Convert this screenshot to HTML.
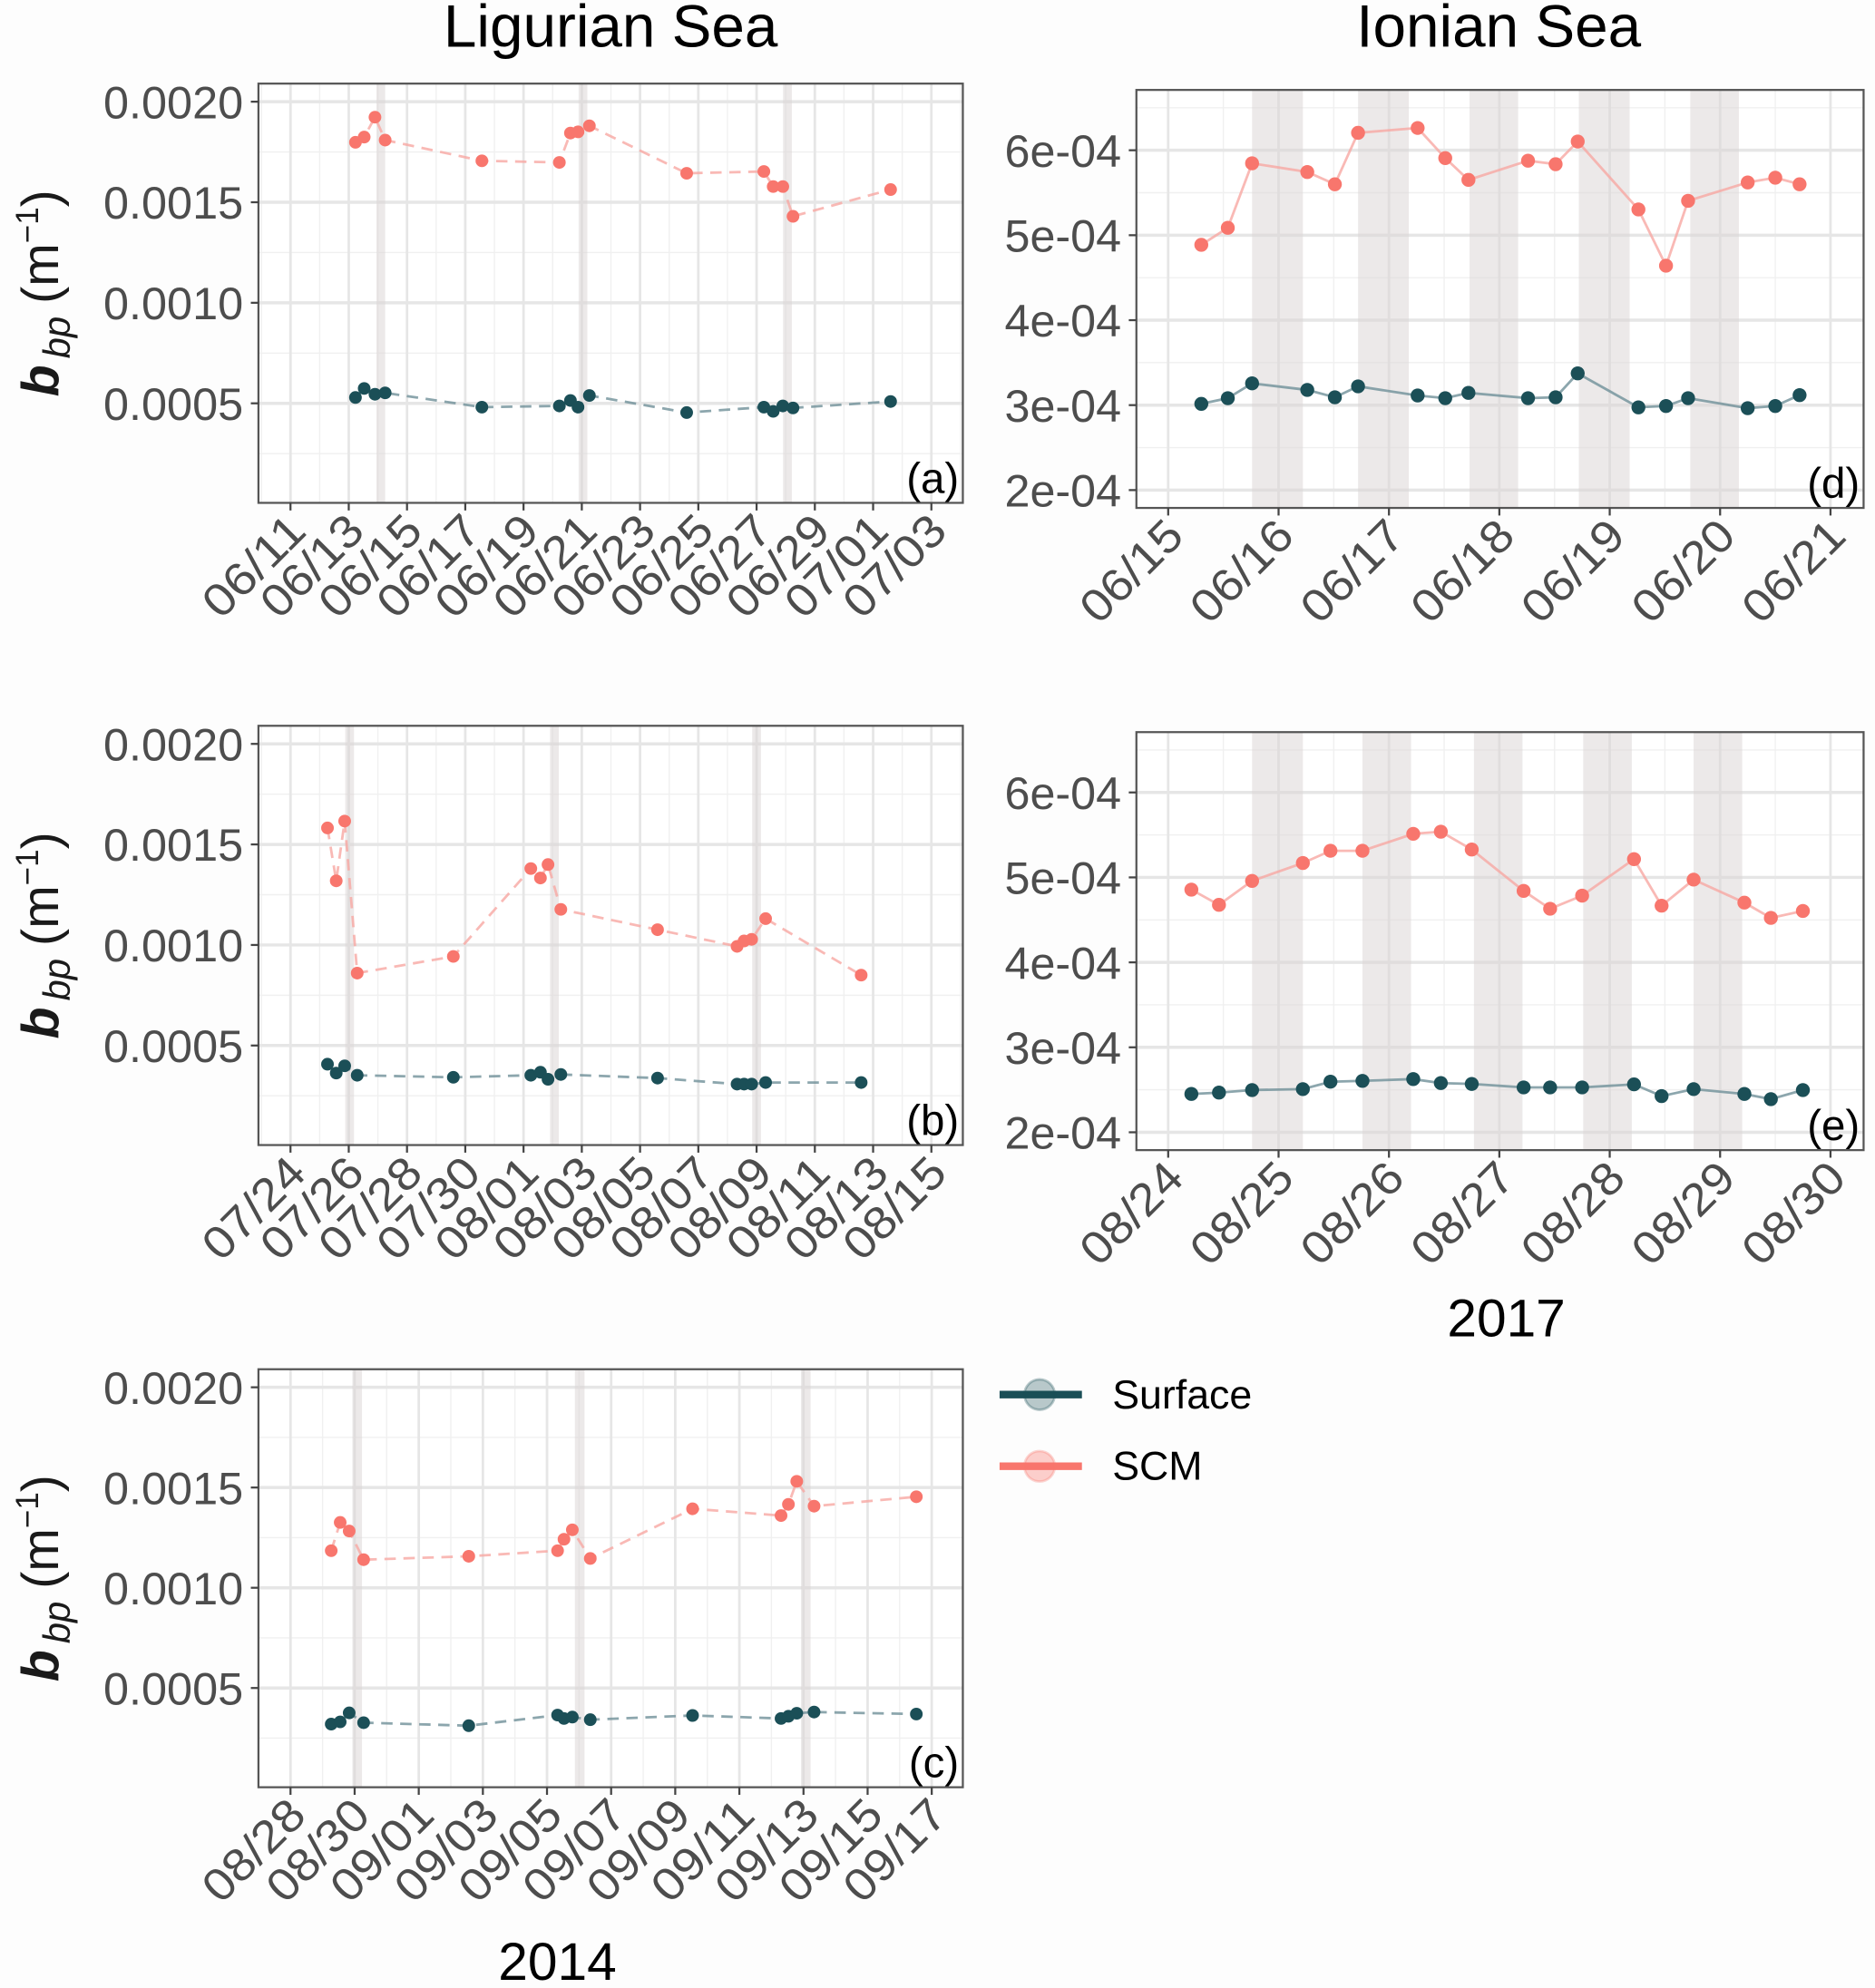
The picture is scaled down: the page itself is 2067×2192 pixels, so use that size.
<!DOCTYPE html>
<html><head><meta charset="utf-8"><style>
html,body{margin:0;padding:0;background:#fdfdfd;}
svg{display:block;}
text{font-family:"Liberation Sans",Arial,sans-serif;}
</style></head><body>
<svg id="fig" xmlns="http://www.w3.org/2000/svg" width="2067" height="2192" viewBox="0 0 1480 1569.5" preserveAspectRatio="none">
<rect x="0" y="0" width="1480" height="1570" fill="#fdfdfd"/>
<text x="482" y="37" font-size="47" text-anchor="middle" fill="#000">Ligurian Sea</text>
<text x="1183" y="37" font-size="47" text-anchor="middle" fill="#000">Ionian Sea</text>
<text x="1189" y="1055" font-size="42" text-anchor="middle" fill="#000">2017</text>
<text x="440" y="1563" font-size="42" text-anchor="middle" fill="#000">2014</text>
<g>
  <g>
    <line x1="789" y1="1101" x2="854" y2="1101" stroke="#1b4f57" stroke-width="6"/>
    <circle cx="820.6" cy="1101" r="12" fill="#1b4f57" fill-opacity="0.3" stroke="#1b4f57" stroke-opacity="0.3" stroke-width="2"/>
    <text x="878" y="1112" font-size="32" fill="#000">Surface</text>
  </g>
  <g>
    <line x1="789" y1="1157.6" x2="854" y2="1157.6" stroke="#f8766d" stroke-width="6"/>
    <circle cx="820.6" cy="1157.6" r="12" fill="#f8766d" fill-opacity="0.35" stroke="#f8766d" stroke-opacity="0.3" stroke-width="2"/>
    <text x="878" y="1168" font-size="32" fill="#000">SCM</text>
  </g>
</g>
</svg>
<script>
// ---- Panel (a) Ligurian June 2014 (day numbers: June day; 07/01 = 31)
const aDays = [13.23,13.53,13.90,14.25,17.57,20.23,20.61,20.87,21.26,24.6,27.25,27.57,27.9,28.25,31.6];
const aScm  = [0.001798,0.001824,0.001923,0.001809,0.001706,0.001698,0.001844,0.00185,0.00188,0.001644,0.001653,0.001578,0.001578,0.00143,0.001563];
const aSurf = [0.000529,0.000574,0.000545,0.000552,0.000481,0.000487,0.000514,0.000481,0.000539,0.000454,0.000481,0.00046,0.000487,0.000477,0.000509];
const aNights = [14.1,21.04,28.06];
const aTickDays = [11,13,15,17,19,21,23,25,27,29,31,33];
const aTickLabels = ["06/11","06/13","06/15","06/17","06/19","06/21","06/23","06/25","06/27","06/29","07/01","07/03"];
// ---- Panel (b) July-Aug (08/01 = 32)
const bDays = [25.27,25.57,25.86,26.29,29.59,32.25,32.58,32.84,33.28,36.6,39.33,39.57,39.83,40.31,43.59];
const bScm  = [0.001582,0.001319,0.001616,0.00086,0.000943,0.00138,0.001333,0.0014,0.001177,0.001076,0.000993,0.00102,0.001028,0.001131,0.00085];
const bSurf = [0.000407,0.000363,0.000399,0.000352,0.000342,0.000352,0.000367,0.000332,0.000356,0.000338,0.000308,0.000308,0.000308,0.000316,0.000316];
const bNights = [26.03,33.06,40.0];
const bTickDays = [24,26,28,30,32,34,36,38,40,42,44,46];
const bTickLabels = ["07/24","07/26","07/28","07/30","08/01","08/03","08/05","08/07","08/09","08/11","08/13","08/15"];
// ---- Panel (c) Aug-Sep (09/01 = 32)
const cDays = [29.27,29.55,29.83,30.28,33.56,36.33,36.53,36.79,37.35,40.54,43.3,43.53,43.79,44.33,47.52];
const cScm  = [0.001185,0.001326,0.001283,0.00114,0.001157,0.001185,0.001242,0.001289,0.001146,0.001394,0.00136,0.001416,0.001531,0.001407,0.001454];
const cSurf = [0.00032,0.000331,0.000376,0.000327,0.000312,0.000365,0.000348,0.000355,0.000342,0.000363,0.000348,0.000359,0.000374,0.00038,0.00037];
const cNights = [30.08,37.02,44.07];
const cTickDays = [28,30,32,34,36,38,40,42,44,46,48];
const cTickLabels = ["08/28","08/30","09/01","09/03","09/05","09/07","09/09","09/11","09/13","09/15","09/17"];
// ---- Panel (d) Ionian June 2017
const dDays = [15.30,15.54,15.76,16.26,16.51,16.72,17.26,17.51,17.72,18.26,18.51,18.71,19.26,19.51,19.71,20.25,20.50,20.72];
const dScm  = [4.887e-4,5.087e-4,5.846e-4,5.744e-4,5.600e-4,6.205e-4,6.262e-4,5.908e-4,5.651e-4,5.877e-4,5.836e-4,6.103e-4,5.303e-4,4.641e-4,5.405e-4,5.621e-4,5.677e-4,5.600e-4];
const dSurf = [3.015e-4,3.082e-4,3.256e-4,3.179e-4,3.092e-4,3.221e-4,3.113e-4,3.082e-4,3.144e-4,3.082e-4,3.092e-4,3.374e-4,2.974e-4,2.990e-4,3.082e-4,2.964e-4,2.990e-4,3.118e-4];
const dNightStart = [15.76,16.72,17.73,18.72,19.73];
const dNightEnd   = [16.22,17.18,18.17,19.18,20.17];
const dTickDays = [15,16,17,18,19,20,21];
const dTickLabels = ["06/15","06/16","06/17","06/18","06/19","06/20","06/21"];
// ---- Panel (e) Ionian Aug 2017
const eDays = [24.21,24.46,24.76,25.22,25.47,25.76,26.22,26.47,26.75,27.22,27.46,27.75,28.22,28.47,28.76,29.22,29.46,29.75];
const eScm  = [4.856e-4,4.677e-4,4.959e-4,5.169e-4,5.313e-4,5.313e-4,5.513e-4,5.538e-4,5.328e-4,4.841e-4,4.631e-4,4.785e-4,5.215e-4,4.667e-4,4.974e-4,4.703e-4,4.523e-4,4.605e-4];
const eSurf = [2.451e-4,2.467e-4,2.497e-4,2.508e-4,2.595e-4,2.605e-4,2.626e-4,2.579e-4,2.569e-4,2.528e-4,2.528e-4,2.528e-4,2.564e-4,2.426e-4,2.508e-4,2.451e-4,2.390e-4,2.497e-4];
const eNightStart = [24.76,25.76,26.77,27.76,28.76];
const eNightEnd   = [25.22,26.2,27.21,28.2,29.2];
const eTickDays = [24,25,26,27,28,29,30];
const eTickLabels = ["08/24","08/25","08/26","08/27","08/28","08/29","08/30"];

const leftYTicks = [0.0005,0.0010,0.0015,0.0020];
const leftYLabels = ["0.0005","0.0010","0.0015","0.0020"];
const rightYTicks = [2e-4,3e-4,4e-4,5e-4,6e-4];
const rightYLabels = ["2e-04","3e-04","4e-04","5e-04","6e-04"];

const NS = "http://www.w3.org/2000/svg";
const svg = document.getElementById('fig');
function mk(tag, attrs, parent){const e=document.createElementNS(NS,tag);for(const k in attrs)e.setAttribute(k,attrs[k]);(parent||svg).appendChild(e);return e;}

function panel(o){
  const g = mk('g',{});
  
  
  const X = d => o.x0 + (d - o.xd0)/(o.xd1 - o.xd0)*(o.x1 - o.x0);
  const Y = v => o.y1 - (v - o.yd0)/(o.yd1 - o.yd0)*(o.y1 - o.y0);
  mk('rect',{x:o.x0,y:o.y0,width:o.x1-o.x0,height:o.y1-o.y0,fill:'#ffffff'},g);
  const cp = 'clip'+o.id;
  const clip = mk('clipPath',{id:cp},g); mk('rect',{x:o.x0,y:o.y0,width:o.x1-o.x0,height:o.y1-o.y0},clip);
  const gg = mk('g',{'clip-path':'url(#'+cp+')'},g);
  for(let d=Math.ceil(o.xd0/o.xminor)*o.xminor; d<=o.xd1; d+=o.xminor){
    mk('line',{x1:X(d),x2:X(d),y1:o.y0,y2:o.y1,stroke:'#f0f0f0','stroke-width':1},gg);
  }
  for(let v=o.ymin0; v<=o.yd1; v+=o.yminor){
    mk('line',{x1:o.x0,x2:o.x1,y1:Y(v),y2:Y(v),stroke:'#f0f0f0','stroke-width':1},gg);
  }
  o.tickDays.forEach(d=>mk('line',{x1:X(d),x2:X(d),y1:o.y0,y2:o.y1,stroke:'#e6e6e6','stroke-width':2},gg));
  o.yTicks.forEach(v=>mk('line',{x1:o.x0,x2:o.x1,y1:Y(v),y2:Y(v),stroke:'#e6e6e6','stroke-width':2.5},gg));
  for(let i=0;i<o.nS.length;i++){
    const r = mk('rect',{x:X(o.nS[i]),y:o.y0,width:X(o.nE[i])-X(o.nS[i]),height:o.y1-o.y0,fill:'#d9d3d3','fill-opacity':0.5},gg);
    
    
  }
  const series = [[o.surf,'#1b4f57','#6f9098','surface'],[o.scm,'#f8766d','#f7a8a2','scm']];
  series.forEach(s=>{
    const pts = o.days.map((d,i)=>X(d)+','+Y(s[0][i])).join(' ');
    const pl = mk('polyline',{points:pts,fill:'none',stroke:s[2],'stroke-width':2,'stroke-dasharray':o.dash?'9,6':'none','stroke-opacity':0.8},gg);
    
    
    o.days.forEach((d,i)=>{
      const c = mk('circle',{cx:X(d),cy:Y(s[0][i]),r:o.r,fill:s[1]},gg);
      
      
    });
  });
  mk('rect',{x:o.x0,y:o.y0,width:o.x1-o.x0,height:o.y1-o.y0,fill:'none',stroke:'#555','stroke-width':1.6},g);
  o.yTicks.forEach((v,i)=>{
    mk('line',{x1:o.x0-6,x2:o.x0,y1:Y(v),y2:Y(v),stroke:'#444','stroke-width':1.6},g);
    const lab = o.yLabels[i];
    const t = mk('text',{x:o.x0-12,y:Y(v)+13,'font-size':36,'text-anchor':'end',fill:'#4d4d4d',textLength:lab.length*18.4,lengthAdjust:'spacingAndGlyphs'},g);
    t.textContent = lab;
    
    
  });
  o.tickDays.forEach((d,i)=>{
    mk('line',{x1:X(d),x2:X(d),y1:o.y1,y2:o.y1+6,stroke:'#444','stroke-width':1.6},g);
    const tx = X(d)+14, ty = o.y1+24;
    const lab = o.tickLabels[i];
    const t = mk('text',{x:tx,y:ty,'font-size':36,'text-anchor':'end',fill:'#4d4d4d',textLength:lab.length*19.5,lengthAdjust:'spacingAndGlyphs',transform:'rotate(-45 '+tx+' '+ty+')'},g);
    t.textContent = lab;
    
    
  });
  const pl = mk('text',{x:o.x1-3,y:o.y1-8,'font-size':34,'text-anchor':'end',fill:'#000'},g);
  pl.textContent = '('+o.id+')';
  
  
  if(o.ytitle){
    const cy = (o.y0+o.y1)/2;
    const t = mk('text',{x:0,y:0,'font-size':41,'text-anchor':'middle',fill:'#1a1a1a',transform:'translate(46 '+cy+') rotate(-90)'},g);
    
    
    const b = mk('tspan',{'font-style':'italic','font-weight':'bold'},t); b.textContent='b';
    const s = mk('tspan',{'font-style':'italic','font-size':30,dy:9,dx:5},t); s.textContent='bp';
    const u = mk('tspan',{dy:-9,dx:10},t); u.textContent='(m';
    const e = mk('tspan',{'font-size':25,dy:-16},t); e.textContent='−1';
    const c = mk('tspan',{dy:16},t); c.textContent=')';
  }
}
const L = {xminor:1, yd0:0.000005, yd1:0.00209, ymin0:0.00025, yminor:0.00025, yTicks:leftYTicks, yLabels:leftYLabels, dash:true, r:5, ytitle:true, x0:204, x1:760};
const R = {xminor:0.5, yd0:1.79e-4, yd1:6.71e-4, ymin0:2.5e-4, yminor:1e-4, yTicks:rightYTicks, yLabels:rightYLabels, dash:false, r:5.5, ytitle:false, x0:897, x1:1471, xd0:0, xd1:0};
panel(Object.assign({},L,{id:'a',y0:66,y1:397,xd0:9.9,xd1:34.08,days:aDays,scm:aScm,surf:aSurf,nS:aNights.map(d=>d-0.15),nE:aNights.map(d=>d+0.15),tickDays:aTickDays,tickLabels:aTickLabels}));
panel(Object.assign({},L,{id:'b',y0:573,y1:904,xd0:22.9,xd1:47.08,days:bDays,scm:bScm,surf:bSurf,nS:bNights.map(d=>d-0.15),nE:bNights.map(d=>d+0.15),tickDays:bTickDays,tickLabels:bTickLabels}));
panel(Object.assign({},L,{id:'c',y0:1081,y1:1411,xd0:27.0,xd1:48.97,days:cDays,scm:cScm,surf:cSurf,nS:cNights.map(d=>d-0.15),nE:cNights.map(d=>d+0.15),tickDays:cTickDays,tickLabels:cTickLabels}));
panel(Object.assign({},R,{id:'d',y0:71,y1:401,xd0:14.712,xd1:21.30,days:dDays,scm:dScm,surf:dSurf,nS:dNightStart,nE:dNightEnd,tickDays:dTickDays,tickLabels:dTickLabels}));
panel(Object.assign({},R,{id:'e',y0:578,y1:908,xd0:23.712,xd1:30.30,days:eDays,scm:eScm,surf:eSurf,nS:eNightStart,nE:eNightEnd,tickDays:eTickDays,tickLabels:eTickLabels}));
</script>
</body></html>
